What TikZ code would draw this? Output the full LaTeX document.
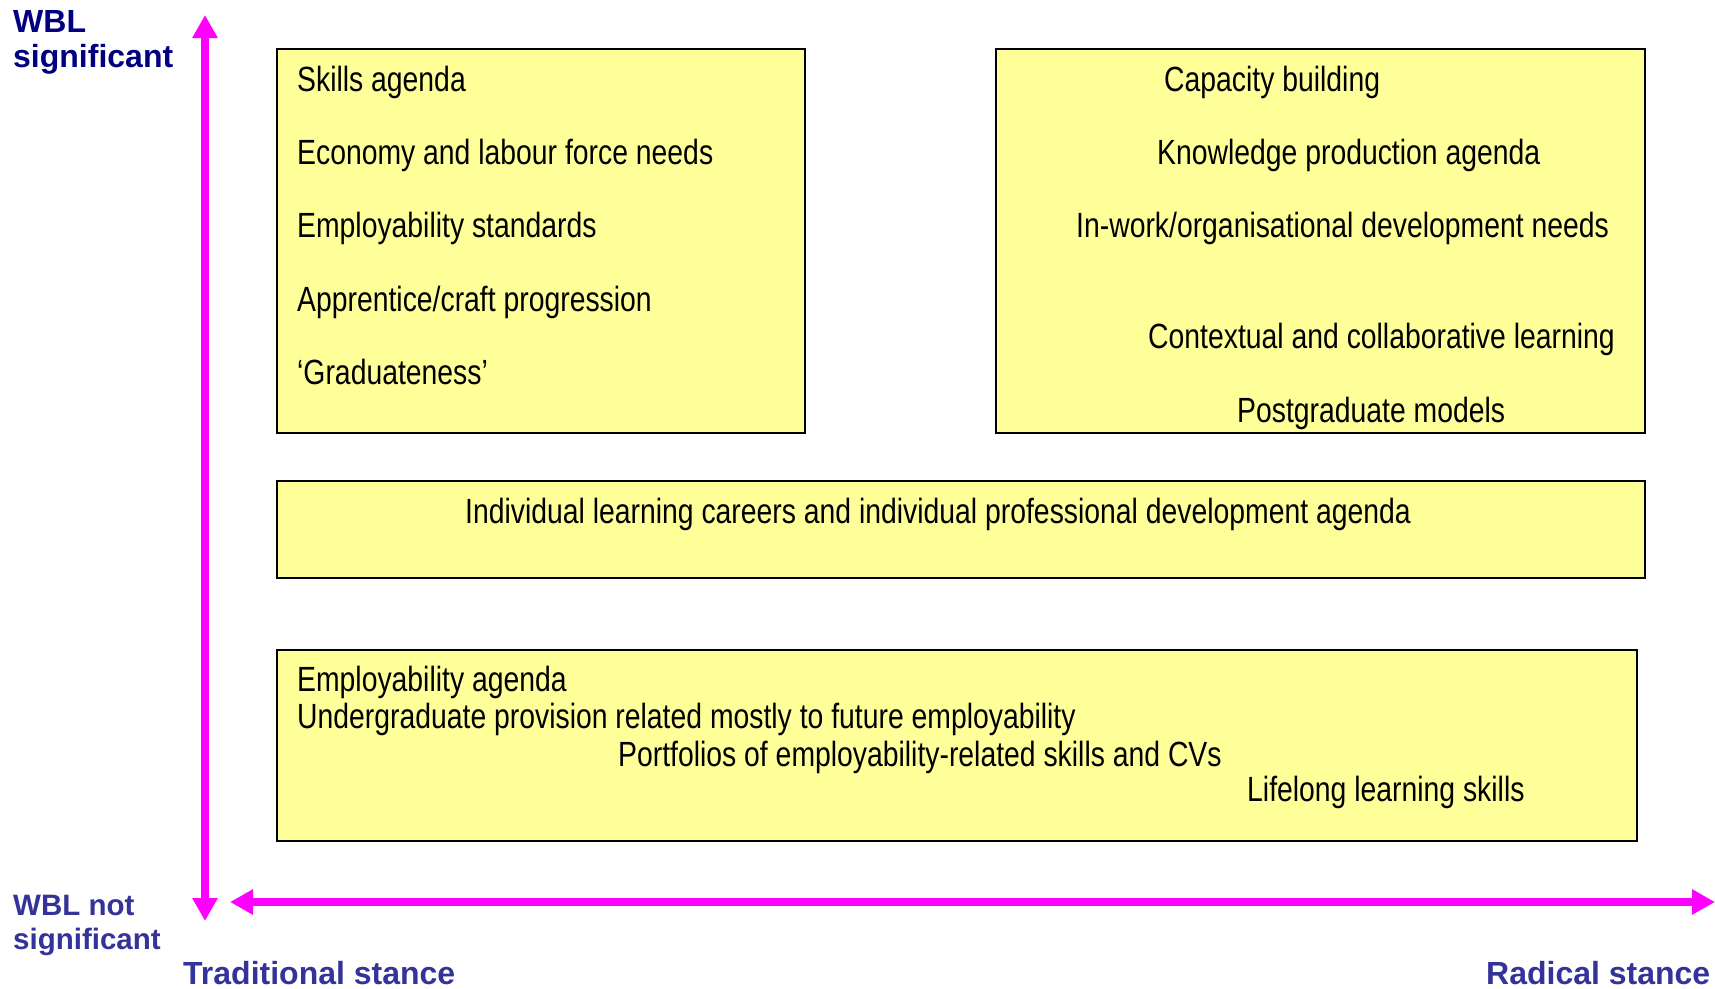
\documentclass[tikz,border=0pt]{standalone}
\usepackage{fontspec}
\setmainfont{Liberation Sans}
\newfontfamily\narrowfont[FakeStretch=0.81]{Liberation Sans}
\usepackage{tikz}
\usetikzlibrary{arrows.meta}
\definecolor{boxyellow}{HTML}{FFFF99}
\definecolor{axismagenta}{HTML}{FF00FF}
\definecolor{wblnavy}{HTML}{000080}
\definecolor{stanceblue}{HTML}{333399}
\tikzset{panel/.style={draw=black,line width=2pt,fill=boxyellow},
         item/.style={anchor=base west,inner sep=0pt,font=\narrowfont\fontsize{35}{40}\selectfont},
         axis/.style={axismagenta,line width=8pt,
           {Triangle[width=24pt,length=23pt]}-{Triangle[width=24pt,length=23pt]}},
         axislabel/.style={anchor=north west,inner sep=0pt,align=left,font=\bfseries}}

\begin{document}
\begin{tikzpicture}[x=1pt,y=-1pt]
\useasboundingbox (0,0) rectangle (1715,988);
% the four panels
\draw[panel] (277,49) rectangle (805,433);
\draw[panel] (996,49) rectangle (1645,433);
\draw[panel] (277,481) rectangle (1645,578);
\draw[panel] (277,650) rectangle (1637,841);
% traditional, WBL significant
\foreach \y/\txt [count=\i] in {91/Skills agenda,164/Economy and labour force needs,
    237/Employability standards,311/{Apprentice/craft progression},384/‘Graduateness’}
  \node[item] (trad\i) at (297,\y) {\txt};
% radical, WBL significant
\foreach \x/\y/\txt [count=\i] in {1164/91/Capacity building,1157/164/Knowledge production agenda,
    1076/237/{In-work/organisational development needs},
    1148/348/Contextual and collaborative learning,1237/422/Postgraduate models}
  \node[item] (rad\i) at (\x,\y) {\txt};
\node[item] (indiv) at (465,523) {Individual learning careers and individual professional development agenda};
% WBL not significant
\foreach \x/\y/\txt [count=\i] in {297/691/Employability agenda,
    297/728/Undergraduate provision related mostly to future employability,
    618/766/Portfolios of employability-related skills and CVs,
    1247/801/Lifelong learning skills}
  \node[item] (emp\i) at (\x,\y) {\txt};
% axes
\coordinate (ytop) at (205,15);
\coordinate (ybot) at (205,921);
\coordinate (xleft) at (230,902);
\coordinate (xright) at (1715,902);
\draw[axis] (ybot) -- (ytop);
\draw[axis] (xleft) -- (xright);
\node[axislabel,text=wblnavy,font=\bfseries\fontsize{32}{35}\selectfont] (sig) at (13,10) {WBL\\significant};
\node[axislabel,text=stanceblue,font=\bfseries\fontsize{29.5}{34}\selectfont] (notsig) at (13,895) {WBL not\\significant};
\node[axislabel,anchor=base west,text=stanceblue,font=\bfseries\fontsize{32}{38}\selectfont] (trad) at (183,984) {Traditional stance};
\node[axislabel,anchor=base west,text=stanceblue,font=\bfseries\fontsize{32}{38}\selectfont] (rad) at (1486,984) {Radical stance};
\end{tikzpicture}
\end{document}
